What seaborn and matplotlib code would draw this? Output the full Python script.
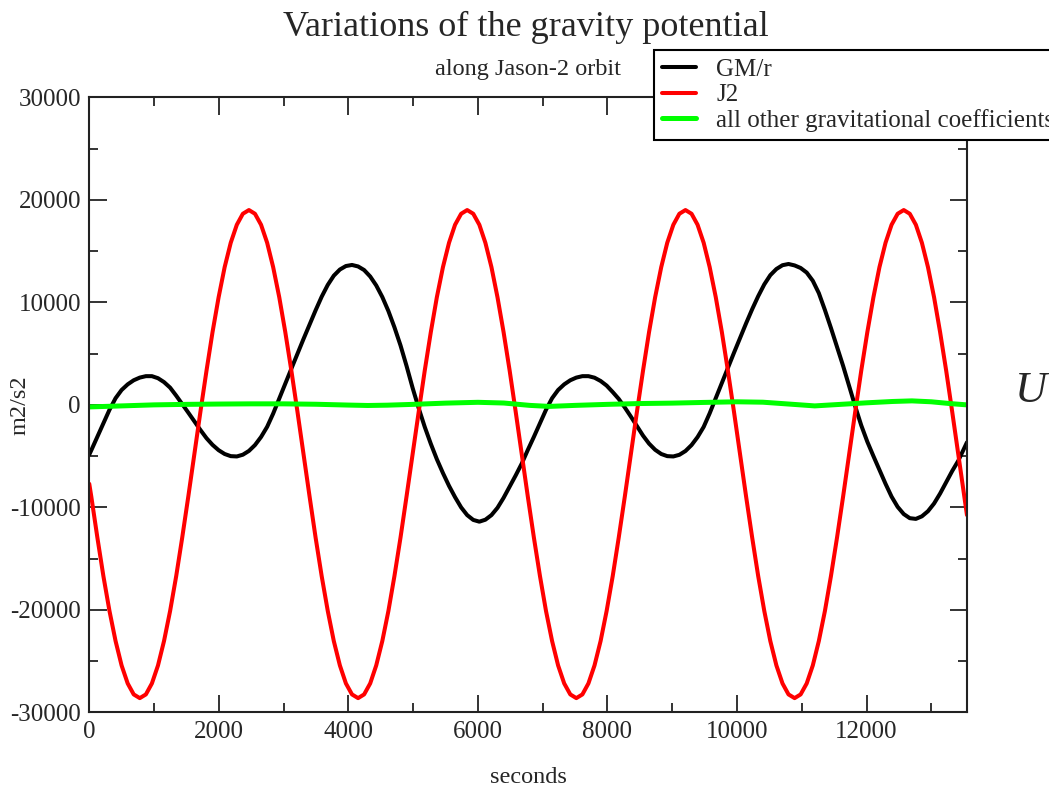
import matplotlib
matplotlib.use("Agg")
import matplotlib.pyplot as plt
import seaborn as sns
import pandas as pd
from matplotlib.ticker import MultipleLocator

# ---- data ----
seconds = [
    0, 31, 125, 218, 312, 406, 499, 593, 686,
    780, 874, 967, 1061, 1154, 1248, 1342, 1435, 1529, 1622,
    1716, 1810, 1903, 1997, 2090, 2184, 2278, 2371, 2465, 2558,
    2652, 2746, 2839, 2933, 3026, 3120, 3214, 3307, 3401, 3494,
    3588, 3682, 3775, 3869, 3962, 4056,
    4150, 4243, 4337, 4430, 4524, 4618, 4711, 4805, 4898, 4992,
    5086, 5179, 5273, 5366, 5460, 5554, 5647, 5741, 5834, 5928,
    6022, 6115, 6209, 6302, 6396, 6490, 6583, 6677, 6770, 6864,
    6958, 7051, 7145, 7238, 7332, 7426,
    7519, 7613, 7706, 7800, 7894, 7987, 8081, 8174, 8268, 8362,
    8455, 8549, 8642, 8736, 8830, 8923, 9017, 9110, 9204, 9298,
    9391, 9485, 9578, 9672, 9766, 9859, 9953, 10046, 10140, 10234,
    10327, 10421, 10514, 10608, 10702, 10795,
    10889, 10982, 11076, 11170, 11263, 11357, 11450, 11544, 11638, 11731,
    11825, 11918, 12012, 12106, 12199, 12293, 12386, 12480, 12574, 12667,
    12761, 12854, 12948, 13042, 13135, 13229, 13322, 13416, 13510, 13550,
]

gm_r = [
    -4850, -4430, -3120, -1800, -480, 650, 1450, 2000, 2400,
    2660, 2800, 2800, 2600, 2220, 1680, 900, 80, -760, -1600,
    -2450, -3250, -3900, -4420, -4790, -5000, -5030, -4860, -4490, -3920,
    -3130, -2140, -850, 620, 2080, 3530, 4980, 6420, 7830, 9220,
    10550, 11700, 12600, 13200, 13540, 13645,
    13500, 13150, 12520, 11650, 10520, 9150, 7570, 5800, 3800, 1650,
    -330, -2150, -3800, -5300, -6650, -7900, -9000, -10000, -10750, -11220,
    -11390, -11200, -10750, -10040, -9070, -7980, -6880, -5720, -4400, -3120,
    -1800, -480, 650, 1450, 2000, 2400,
    2660, 2800, 2800, 2650, 2330, 1880, 1250, 580, -260, -1150,
    -2080, -3000, -3780, -4380, -4790, -5000, -5030, -4870, -4500, -3920,
    -3140, -2150, -820, 650, 2120, 3600, 5080, 6500, 7950, 9330,
    10600, 11750, 12650, 13250, 13620, 13740,
    13600, 13350, 12900, 12100, 10900, 9250, 7500, 5650, 3800, 1850,
    -150, -2000, -3600, -5000, -6350, -7700, -8950, -9950, -10650, -11050,
    -11120, -10870, -10370, -9620, -8650, -7550, -6450, -5450, -4200, -3650,
]

j2 = [
    -7700, -8932, -12940, -16700, -20099, -23031, -25411, -27165, -28238,
    -28600, -28238, -27165, -25411, -23031, -20099, -16700, -12940, -8932, -4800,
    -668, 3340, 7100, 10499, 13431, 15811, 17565, 18638, 19000, 18638,
    17565, 15811, 13431, 10499, 7100, 3340, -668, -4800, -8932, -12940,
    -16700, -20099, -23031, -25411, -27165, -28238,
    -28600, -28238, -27165, -25411, -23031, -20099, -16700, -12940, -8932, -4800,
    -668, 3340, 7100, 10499, 13431, 15811, 17565, 18638, 19000, 18638,
    17565, 15811, 13431, 10499, 7100, 3340, -668, -4800, -8932, -12940,
    -16700, -20099, -23031, -25411, -27165, -28238,
    -28600, -28238, -27165, -25411, -23031, -20099, -16700, -12940, -8932, -4800,
    -668, 3340, 7100, 10499, 13431, 15811, 17565, 18638, 19000, 18638,
    17565, 15811, 13431, 10499, 7100, 3340, -668, -4800, -8932, -12940,
    -16700, -20099, -23031, -25411, -27165, -28238,
    -28600, -28238, -27165, -25411, -23031, -20099, -16700, -12940, -8932, -4800,
    -668, 3340, 7100, 10499, 13431, 15811, 17565, 18638, 19000, 18638,
    17565, 15811, 13431, 10499, 7100, 3340, -668, -4800, -8932, -10750,
]

other_seconds = [0, 500, 1000, 1500, 2000, 2500, 3000, 3500, 4000, 4300, 4600,
                 5000, 5500, 6000, 6400, 6800, 7100, 7500, 8000, 8500, 9000,
                 9500, 10000, 10400, 10800, 11200, 11600, 12000, 12400, 12700,
                 13000, 13300, 13550]
other_coeffs = [-200, -100, 0, 50, 80, 100, 100, 60, -20, -60, -30,
                50, 170, 250, 180, -50, -150, -50, 50, 130, 170,
                240, 300, 260, 80, -100, 50, 200, 330, 390,
                300, 120, 0]

df = pd.DataFrame({"seconds": seconds, "gm_r": gm_r, "j2": j2})
df_other = pd.DataFrame({"seconds": other_seconds, "other": other_coeffs})

# ---- style ----
sns.set_style("ticks")
plt.rcParams["font.family"] = ["Liberation Serif", "DejaVu Serif"]
plt.rcParams["axes.unicode_minus"] = False

fig = plt.figure(figsize=(10.49, 7.92), dpi=100)
ax = fig.add_axes([0.0851, 0.1004, 0.8367, 0.7768])

sns.lineplot(data=df, x="seconds", y="gm_r", color="black", lw=2.9,
             label="GM/r", estimator=None, sort=False, ax=ax)
sns.lineplot(data=df, x="seconds", y="j2", color="#ff0000", lw=2.9,
             label="J2", estimator=None, sort=False, ax=ax)
sns.lineplot(data=df_other, x="seconds", y="other", color="#00ff00", lw=3.6,
             label="all other gravitational coefficients", estimator=None,
             sort=False, ax=ax)

ax.set_xlim(0, 13550)
ax.set_ylim(-30000, 30000)
ax.xaxis.set_major_locator(MultipleLocator(2000))
ax.xaxis.set_minor_locator(MultipleLocator(1000))
ax.yaxis.set_major_locator(MultipleLocator(10000))
ax.yaxis.set_minor_locator(MultipleLocator(5000))
ax.tick_params(which="both", direction="in", top=True, right=True,
               width=1.4, color="#333333")
ax.tick_params(which="major", length=12.6, labelsize=18, pad=6)
ax.tick_params(which="minor", length=6.8)
for sp in ax.spines.values():
    sp.set_linewidth(1.5)
    sp.set_color("#222222")

ax.set_xlabel("seconds", fontsize=17.5)
ax.set_ylabel("m2/s2", fontsize=17.5)
ax.xaxis.set_label_coords(0.5, -0.088)
ax.yaxis.set_label_coords(-0.067, 0.5)

fig.text(526 / 1049, 1 - 36 / 792, "Variations of the gravity potential",
         ha="center", va="baseline", fontsize=26)
fig.text(528 / 1049, 1 - 75 / 792, "along Jason-2 orbit",
         ha="center", va="baseline", fontsize=17.5)
fig.text(1015 / 1049, 1 - 402 / 792, "U", ha="left", va="baseline",
         fontsize=32, style="italic")

# legend box runs past the right edge of the figure, as in the original
leg = ax.legend(loc="upper left", bbox_to_anchor=(654 / 1049, 1 - 50 / 792),
                bbox_transform=fig.transFigure, fontsize=18, frameon=True,
                fancybox=False, framealpha=1, edgecolor="black",
                borderpad=0.33, labelspacing=0.12, handlelength=1.36,
                handletextpad=0.8, borderaxespad=0)
leg.get_frame().set_linewidth(1.5)

plt.savefig("out.png", dpi=100)
plt.close()
